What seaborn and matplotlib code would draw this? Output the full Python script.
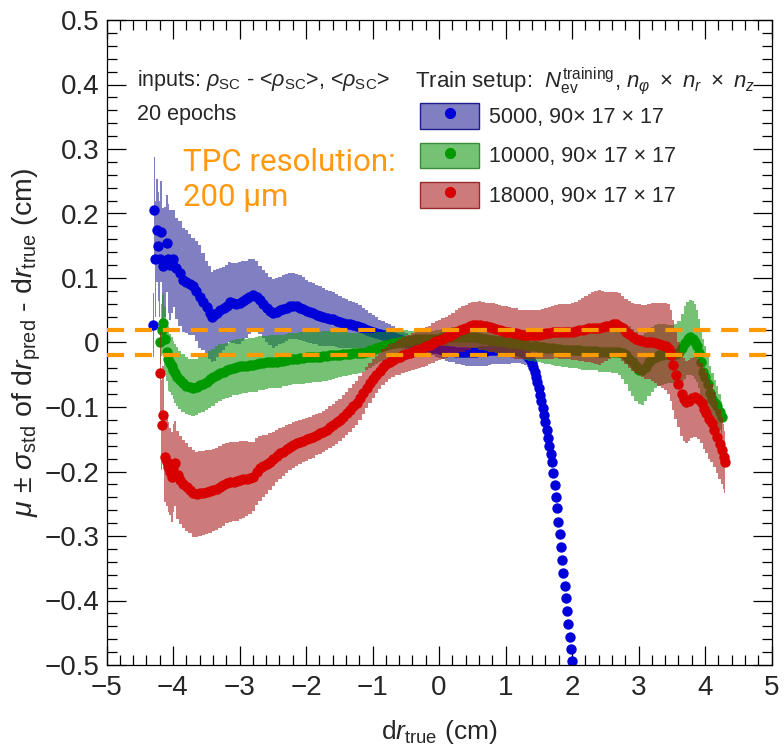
import numpy as np
import pandas as pd
import seaborn as sns
import matplotlib
matplotlib.use("Agg")
import matplotlib.pyplot as plt
from matplotlib.ticker import MultipleLocator, FuncFormatter
from matplotlib.patches import Patch
from matplotlib.lines import Line2D
from matplotlib.legend_handler import HandlerTuple
from matplotlib.colors import to_rgba

# ---------------------------------------------------------------- data
# 5000 training events
blue_x = [-4.300, -4.285, -4.270, -4.245, -4.220, -4.195, -4.185, -4.146, -4.120, -4.095,
          -4.070, -4.045, -4.020, -3.995, -3.950, -3.895, -3.845, -3.800, -3.750, -3.695,
          -3.650, -3.594, -3.550, -3.490, -3.450, -3.418, -3.380, -3.340, -3.290, -3.240,
          -3.190, -3.143, -3.100, -3.050, -2.990, -2.950, -2.900, -2.850, -2.790, -2.740,
          -2.690, -2.640, -2.590, -2.540, -2.490, -2.440, -2.390, -2.340, -2.290, -2.240,
          -2.190, -2.140, -2.090, -2.040, -1.990, -1.940, -1.890, -1.840, -1.790, -1.740,
          -1.690, -1.640, -1.590, -1.540, -1.490, -1.440, -1.390, -1.340, -1.290, -1.240,
          -1.190, -1.140, -1.090, -1.040, -0.990, -0.940, -0.890, -0.840, -0.790, -0.740,
          -0.690, -0.640, -0.590, -0.540, -0.490, -0.440, -0.390, -0.340, -0.290, -0.240,
          -0.190, -0.140, -0.090, -0.040, 0.010, 0.060, 0.110, 0.160, 0.210, 0.260,
          0.310, 0.360, 0.410, 0.460, 0.510, 0.560, 0.610, 0.660, 0.710, 0.760,
          0.810, 0.860, 0.910, 0.960, 1.010, 1.060, 1.110, 1.160, 1.210, 1.260,
          1.300, 1.340, 1.370, 1.400, 1.420, 1.440, 1.460, 1.480, 1.500, 1.520,
          1.540, 1.560, 1.580, 1.600, 1.620, 1.640, 1.660, 1.680, 1.700, 1.720,
          1.739, 1.757, 1.776, 1.795, 1.813, 1.832, 1.851, 1.869, 1.888, 1.907,
          1.925, 1.944, 1.963, 1.981, 2.000]
blue_mu = [0.027, 0.205, 0.130, 0.174, 0.149, 0.129, 0.172, 0.118, 0.125, 0.154,
           0.130, 0.120, 0.125, 0.130, 0.115, 0.107, 0.097, 0.094, 0.090, 0.087,
           0.080, 0.071, 0.063, 0.055, 0.046, 0.040, 0.042, 0.046, 0.050, 0.053,
           0.057, 0.063, 0.062, 0.060, 0.061, 0.064, 0.067, 0.071, 0.074, 0.071,
           0.066, 0.060, 0.054, 0.049, 0.045, 0.047, 0.050, 0.052, 0.054, 0.056,
           0.056, 0.056, 0.054, 0.052, 0.049, 0.047, 0.045, 0.043, 0.041, 0.039,
           0.038, 0.037, 0.036, 0.034, 0.032, 0.030, 0.029, 0.028, 0.027, 0.026,
           0.024, 0.022, 0.020, 0.018, 0.016, 0.015, 0.013, 0.012, 0.011, 0.010,
           0.009, 0.007, 0.005, 0.003, 0.001, -0.001, -0.003, -0.004, -0.005, -0.006,
           -0.006, -0.007, -0.008, -0.009, -0.010, -0.011, -0.012, -0.013, -0.013, -0.014,
           -0.014, -0.014, -0.014, -0.014, -0.014, -0.014, -0.013, -0.013, -0.013, -0.012,
           -0.012, -0.012, -0.012, -0.012, -0.012, -0.012, -0.012, -0.012, -0.013, -0.015,
           -0.018, -0.022, -0.026, -0.032, -0.038, -0.045, -0.053, -0.062, -0.071, -0.081,
           -0.091, -0.102, -0.113, -0.124, -0.136, -0.148, -0.160, -0.173, -0.186, -0.202,
           -0.221, -0.240, -0.257, -0.278, -0.297, -0.317, -0.337, -0.357, -0.378, -0.396,
           -0.416, -0.436, -0.457, -0.475, -0.494]
blue_sd = [0.050, 0.083, 0.090, 0.080, 0.085, 0.090, 0.078, 0.090, 0.085, 0.075,
           0.085, 0.085, 0.080, 0.075, 0.078, 0.082, 0.080, 0.080, 0.078, 0.075,
           0.078, 0.080, 0.075, 0.072, 0.072, 0.070, 0.070, 0.068, 0.066, 0.064,
           0.063, 0.062, 0.062, 0.063, 0.064, 0.062, 0.060, 0.058, 0.056, 0.055,
           0.053, 0.053, 0.053, 0.053, 0.053, 0.053, 0.052, 0.052, 0.052, 0.051,
           0.051, 0.050, 0.050, 0.049, 0.048, 0.047, 0.047, 0.046, 0.046, 0.045,
           0.044, 0.043, 0.042, 0.041, 0.040, 0.039, 0.038, 0.037, 0.036, 0.035,
           0.034, 0.032, 0.030, 0.028, 0.026, 0.024, 0.022, 0.021, 0.019, 0.018,
           0.016, 0.015, 0.014, 0.013, 0.013, 0.012, 0.012, 0.012, 0.012, 0.012,
           0.012, 0.012, 0.012, 0.013, 0.014, 0.015, 0.016, 0.017, 0.018, 0.019,
           0.020, 0.021, 0.022, 0.022, 0.023, 0.023, 0.023, 0.023, 0.023, 0.023,
           0.022, 0.022, 0.022, 0.022, 0.021, 0.021, 0.020, 0.020, 0.019, 0.018,
           0.017, 0.016, 0.015, 0.014, 0.013, 0.012, 0.012, 0.011, 0.011, 0.010,
           0.010, 0.009, 0.009, 0.008, 0.008, 0.007, 0.007, 0.006, 0.006, 0.005,
           0.005, 0.005, 0.005, 0.005, 0.005, 0.005, 0.005, 0.005, 0.005, 0.005,
           0.005, 0.005, 0.005, 0.005, 0.005]

# 10000 training events
green_x = [-4.195, -4.170, -4.146, -4.120, -4.095, -4.070, -4.045, -4.020, -3.995, -3.970,
           -3.944, -3.900, -3.845, -3.800, -3.745, -3.700, -3.644, -3.600, -3.550, -3.493,
           -3.450, -3.400, -3.343, -3.300, -3.240, -3.190, -3.140, -3.090, -3.040, -2.990,
           -2.940, -2.890, -2.840, -2.790, -2.740, -2.690, -2.640, -2.590, -2.540, -2.490,
           -2.440, -2.390, -2.340, -2.290, -2.240, -2.190, -2.140, -2.090, -2.040, -1.990,
           -1.940, -1.890, -1.840, -1.790, -1.740, -1.690, -1.640, -1.590, -1.540, -1.490,
           -1.440, -1.390, -1.340, -1.290, -1.240, -1.190, -1.140, -1.090, -1.040, -0.990,
           -0.940, -0.890, -0.840, -0.790, -0.740, -0.690, -0.640, -0.590, -0.540, -0.490,
           -0.440, -0.390, -0.340, -0.290, -0.240, -0.190, -0.140, -0.090, -0.040, 0.010,
           0.060, 0.110, 0.160, 0.210, 0.260, 0.310, 0.360, 0.410, 0.460, 0.510,
           0.560, 0.610, 0.660, 0.710, 0.760, 0.810, 0.860, 0.910, 0.960, 1.010,
           1.060, 1.110, 1.160, 1.210, 1.260, 1.310, 1.360, 1.410, 1.460, 1.510,
           1.560, 1.610, 1.660, 1.710, 1.760, 1.810, 1.860, 1.910, 1.960, 2.010,
           2.060, 2.110, 2.160, 2.210, 2.260, 2.310, 2.360, 2.410, 2.460, 2.510,
           2.560, 2.610, 2.660, 2.710, 2.760, 2.810, 2.860, 2.910, 2.960, 3.010,
           3.060, 3.110, 3.160, 3.210, 3.260, 3.310, 3.360, 3.410, 3.460, 3.510,
           3.560, 3.610, 3.660, 3.700, 3.740, 3.780, 3.820, 3.850, 3.880, 3.910,
           3.940, 3.970, 4.000, 4.040, 4.070, 4.110, 4.150, 4.180, 4.220, 4.250]
green_mu = [0.001, 0.019, 0.030, 0.005, -0.015, -0.025, -0.032, -0.037, -0.043, -0.048,
            -0.053, -0.058, -0.063, -0.067, -0.069, -0.070, -0.069, -0.066, -0.064, -0.061,
            -0.057, -0.054, -0.050, -0.047, -0.045, -0.043, -0.041, -0.039, -0.038, -0.037,
            -0.036, -0.036, -0.035, -0.035, -0.034, -0.032, -0.032, -0.031, -0.030, -0.030,
            -0.030, -0.029, -0.028, -0.027, -0.026, -0.025, -0.025, -0.024, -0.024, -0.023,
            -0.023, -0.022, -0.022, -0.022, -0.021, -0.021, -0.020, -0.020, -0.019, -0.019,
            -0.018, -0.018, -0.018, -0.017, -0.017, -0.017, -0.016, -0.014, -0.012, -0.011,
            -0.009, -0.007, -0.006, -0.004, -0.003, -0.001, 0.000, 0.001, 0.002, 0.003,
            0.003, 0.004, 0.005, 0.005, 0.005, 0.006, 0.006, 0.006, 0.006, 0.007,
            0.008, 0.008, 0.009, 0.009, 0.009, 0.009, 0.009, 0.009, 0.009, 0.008,
            0.008, 0.007, 0.006, 0.005, 0.004, 0.004, 0.003, 0.002, 0.002, 0.001,
            0.000, -0.001, -0.001, -0.002, -0.003, -0.004, -0.005, -0.005, -0.006, -0.007,
            -0.007, -0.008, -0.008, -0.009, -0.010, -0.010, -0.011, -0.011, -0.012, -0.012,
            -0.012, -0.012, -0.013, -0.013, -0.013, -0.013, -0.013, -0.014, -0.014, -0.014,
            -0.014, -0.014, -0.014, -0.015, -0.016, -0.019, -0.025, -0.031, -0.037, -0.042,
            -0.043, -0.038, -0.031, -0.026, -0.022, -0.020, -0.019, -0.018, -0.018, -0.018,
            -0.018, -0.015, -0.008, 0.000, 0.006, 0.008, 0.006, 0.001, -0.006, -0.017,
            -0.030, -0.045, -0.053, -0.065, -0.079, -0.087, -0.094, -0.099, -0.108, -0.115]
green_sd = [0.035, 0.040, 0.045, 0.050, 0.045, 0.050, 0.045, 0.045, 0.045, 0.046,
            0.046, 0.045, 0.045, 0.044, 0.044, 0.044, 0.044, 0.044, 0.044, 0.044,
            0.044, 0.044, 0.044, 0.044, 0.043, 0.043, 0.043, 0.043, 0.043, 0.043,
            0.043, 0.042, 0.042, 0.042, 0.042, 0.042, 0.042, 0.041, 0.041, 0.041,
            0.041, 0.041, 0.040, 0.040, 0.040, 0.040, 0.040, 0.040, 0.040, 0.040,
            0.040, 0.039, 0.039, 0.039, 0.039, 0.039, 0.038, 0.037, 0.036, 0.035,
            0.034, 0.034, 0.033, 0.032, 0.032, 0.031, 0.030, 0.029, 0.027, 0.026,
            0.025, 0.024, 0.023, 0.022, 0.021, 0.021, 0.019, 0.018, 0.017, 0.016,
            0.015, 0.014, 0.013, 0.013, 0.012, 0.012, 0.012, 0.012, 0.013, 0.013,
            0.013, 0.014, 0.014, 0.015, 0.015, 0.016, 0.016, 0.016, 0.017, 0.017,
            0.017, 0.018, 0.018, 0.018, 0.019, 0.019, 0.019, 0.020, 0.020, 0.020,
            0.021, 0.021, 0.022, 0.022, 0.023, 0.023, 0.023, 0.024, 0.024, 0.024,
            0.025, 0.025, 0.025, 0.026, 0.026, 0.027, 0.027, 0.027, 0.028, 0.028,
            0.028, 0.029, 0.029, 0.029, 0.030, 0.030, 0.030, 0.031, 0.031, 0.032,
            0.032, 0.033, 0.034, 0.036, 0.040, 0.045, 0.050, 0.052, 0.054, 0.054,
            0.054, 0.053, 0.052, 0.050, 0.049, 0.048, 0.047, 0.046, 0.045, 0.045,
            0.046, 0.048, 0.052, 0.056, 0.057, 0.058, 0.058, 0.058, 0.056, 0.054,
            0.052, 0.050, 0.048, 0.045, 0.042, 0.040, 0.036, 0.032, 0.028, 0.025]

# 18000 training events
red_x = [-4.195, -4.170, -4.146, -4.120, -4.095, -4.070, -4.045, -4.020, -3.995, -3.970,
         -3.930, -3.895, -3.845, -3.794, -3.745, -3.695, -3.645, -3.594, -3.545, -3.494,
         -3.444, -3.394, -3.344, -3.294, -3.244, -3.190, -3.140, -3.090, -3.040, -2.990,
         -2.940, -2.890, -2.840, -2.790, -2.740, -2.690, -2.640, -2.590, -2.540, -2.490,
         -2.440, -2.390, -2.340, -2.290, -2.240, -2.190, -2.140, -2.090, -2.040, -1.990,
         -1.940, -1.890, -1.840, -1.790, -1.740, -1.690, -1.640, -1.590, -1.540, -1.490,
         -1.440, -1.390, -1.340, -1.290, -1.240, -1.190, -1.140, -1.090, -1.040, -0.990,
         -0.940, -0.890, -0.840, -0.790, -0.740, -0.690, -0.640, -0.590, -0.540, -0.490,
         -0.440, -0.390, -0.340, -0.290, -0.240, -0.190, -0.140, -0.090, -0.040, 0.010,
         0.060, 0.110, 0.160, 0.210, 0.260, 0.310, 0.360, 0.410, 0.460, 0.510,
         0.560, 0.610, 0.660, 0.710, 0.760, 0.810, 0.860, 0.910, 0.960, 1.010,
         1.060, 1.110, 1.160, 1.210, 1.260, 1.310, 1.360, 1.410, 1.460, 1.510,
         1.560, 1.610, 1.660, 1.710, 1.760, 1.810, 1.860, 1.910, 1.960, 2.010,
         2.060, 2.110, 2.160, 2.210, 2.260, 2.310, 2.360, 2.410, 2.460, 2.510,
         2.560, 2.610, 2.660, 2.710, 2.760, 2.810, 2.860, 2.910, 2.960, 3.010,
         3.060, 3.110, 3.160, 3.210, 3.260, 3.310, 3.360, 3.410, 3.460, 3.490,
         3.520, 3.560, 3.600, 3.650, 3.680, 3.720, 3.760, 3.800, 3.850, 3.900,
         3.950, 3.990, 4.020, 4.060, 4.100, 4.140, 4.180, 4.220, 4.250, 4.280,
         4.300]
red_mu = [-0.048, -0.128, -0.112, -0.177, -0.185, -0.193, -0.200, -0.208, -0.195, -0.187,
          -0.205, -0.213, -0.219, -0.224, -0.229, -0.234, -0.235, -0.234, -0.233, -0.232,
          -0.231, -0.229, -0.227, -0.224, -0.221, -0.218, -0.217, -0.216, -0.215, -0.213,
          -0.212, -0.211, -0.210, -0.208, -0.200, -0.195, -0.192, -0.189, -0.185, -0.181,
          -0.176, -0.172, -0.169, -0.165, -0.162, -0.159, -0.156, -0.154, -0.152, -0.150,
          -0.148, -0.146, -0.143, -0.141, -0.138, -0.135, -0.131, -0.128, -0.124, -0.120,
          -0.115, -0.110, -0.105, -0.099, -0.094, -0.086, -0.078, -0.070, -0.063, -0.056,
          -0.050, -0.044, -0.038, -0.034, -0.030, -0.027, -0.024, -0.022, -0.020, -0.018,
          -0.016, -0.014, -0.012, -0.010, -0.008, -0.006, -0.004, -0.001, 0.002, 0.004,
          0.006, 0.008, 0.010, 0.013, 0.016, 0.019, 0.021, 0.023, 0.025, 0.027,
          0.027, 0.027, 0.026, 0.025, 0.024, 0.023, 0.021, 0.019, 0.018, 0.017,
          0.016, 0.015, 0.014, 0.013, 0.012, 0.012, 0.012, 0.012, 0.012, 0.012,
          0.013, 0.014, 0.015, 0.016, 0.017, 0.017, 0.017, 0.017, 0.017, 0.017,
          0.018, 0.019, 0.020, 0.021, 0.022, 0.023, 0.023, 0.023, 0.024, 0.025,
          0.026, 0.028, 0.028, 0.026, 0.022, 0.017, 0.013, 0.009, 0.006, 0.004,
          0.002, 0.001, 0.001, 0.001, -0.001, -0.003, -0.004, -0.006, -0.010, -0.020,
          -0.035, -0.050, -0.065, -0.080, -0.088, -0.092, -0.090, -0.086, -0.084, -0.088,
          -0.094, -0.103, -0.110, -0.118, -0.125, -0.135, -0.146, -0.157, -0.167, -0.177,
          -0.185]
red_sd = [0.065, 0.070, 0.075, 0.070, 0.068, 0.070, 0.068, 0.070, 0.068, 0.066,
          0.068, 0.068, 0.068, 0.068, 0.067, 0.067, 0.066, 0.066, 0.065, 0.065,
          0.065, 0.064, 0.064, 0.063, 0.063, 0.062, 0.062, 0.061, 0.061, 0.060,
          0.060, 0.058, 0.056, 0.054, 0.052, 0.050, 0.048, 0.046, 0.044, 0.042,
          0.040, 0.039, 0.038, 0.037, 0.036, 0.035, 0.035, 0.034, 0.034, 0.033,
          0.033, 0.033, 0.032, 0.032, 0.032, 0.032, 0.032, 0.032, 0.033, 0.033,
          0.033, 0.034, 0.034, 0.034, 0.034, 0.034, 0.033, 0.032, 0.031, 0.030,
          0.029, 0.028, 0.028, 0.027, 0.027, 0.027, 0.027, 0.028, 0.028, 0.028,
          0.028, 0.029, 0.029, 0.029, 0.030, 0.030, 0.030, 0.031, 0.031, 0.031,
          0.032, 0.032, 0.033, 0.033, 0.034, 0.034, 0.035, 0.035, 0.036, 0.036,
          0.036, 0.037, 0.037, 0.037, 0.038, 0.038, 0.038, 0.039, 0.039, 0.039,
          0.039, 0.039, 0.039, 0.038, 0.038, 0.038, 0.038, 0.038, 0.038, 0.038,
          0.039, 0.040, 0.040, 0.041, 0.041, 0.042, 0.042, 0.043, 0.043, 0.044,
          0.045, 0.047, 0.049, 0.051, 0.053, 0.055, 0.057, 0.058, 0.056, 0.054,
          0.052, 0.050, 0.050, 0.050, 0.050, 0.051, 0.052, 0.053, 0.054, 0.055,
          0.056, 0.057, 0.058, 0.060, 0.062, 0.064, 0.066, 0.068, 0.070, 0.070,
          0.070, 0.068, 0.066, 0.065, 0.064, 0.064, 0.063, 0.062, 0.062, 0.062,
          0.062, 0.062, 0.062, 0.062, 0.060, 0.058, 0.056, 0.054, 0.052, 0.050,
          0.048]

series_labels = ["5000, 90× 17 × 17", "10000, 90× 17 × 17", "18000, 90× 17 × 17"]
tpc_resolution = 0.02  # cm, i.e. 200 um

# ---------------------------------------------------------------- style
sns.set_style("ticks")
plt.rcParams["font.family"] = ["Liberation Sans", "DejaVu Sans"]
plt.rcParams["mathtext.fontset"] = "custom"
plt.rcParams["mathtext.rm"] = "Liberation Sans"
plt.rcParams["mathtext.it"] = "Liberation Sans:italic"
plt.rcParams["mathtext.bf"] = "Liberation Sans:bold"

marker_colors = ["#0000d8", "#009a00", "#d80000"]
band_colors = ["#3a3aa0", "#1a9a1a", "#a81a1a"]
band_alpha = [0.65, 0.60, 0.58]
edge_colors = ["#1c1c8c", "#3a8a3a", "#9a2a2a"]

fig = plt.figure(figsize=(7.84, 7.56), dpi=100)
ax = fig.add_axes([106.5 / 784, 1 - 665 / 756, 665 / 784, 645 / 756])

data = [(blue_x, blue_mu, blue_sd), (green_x, green_mu, green_sd), (red_x, red_mu, red_sd)]
for i, (x, mu, sd) in enumerate(data):
    df = pd.DataFrame({"x": x, "mu": mu, "sd": sd})
    ax.fill_between(df["x"], df["mu"] - df["sd"], df["mu"] + df["sd"], step="mid",
                    color=band_colors[i], alpha=band_alpha[i], lw=0, zorder=2 * i + 1)
    sns.scatterplot(data=df, x="x", y="mu", color=marker_colors[i], s=56, linewidth=0,
                    ax=ax, zorder=2 * i + 2, legend=False)

# TPC resolution band edges
for level in (tpc_resolution, -tpc_resolution):
    ax.axhline(level, color="#ff9900", lw=3.0, dashes=(4.1, 2.6), zorder=10)

# ---------------------------------------------------------------- axes
ax.set_xlim(-5, 5)
ax.set_ylim(-0.5, 0.5)
ax.xaxis.set_major_locator(MultipleLocator(1))
ax.xaxis.set_minor_locator(MultipleLocator(0.2))
ax.yaxis.set_major_locator(MultipleLocator(0.1))
ax.yaxis.set_minor_locator(MultipleLocator(0.02))


def root_fmt(v, pos):
    if abs(v) < 1e-9:
        return "0"
    return f"{v:g}".replace("-", "\u2212")


ax.xaxis.set_major_formatter(FuncFormatter(root_fmt))
ax.yaxis.set_major_formatter(FuncFormatter(root_fmt))
ax.tick_params(which="both", direction="in", top=True, right=True, width=0.9,
               color="black")
ax.tick_params(axis="y", labelsize=20, pad=5)
ax.tick_params(axis="x", labelsize=20, pad=7)
ax.tick_params(which="major", length=14)
ax.tick_params(which="minor", length=7)
for sp in ax.spines.values():
    sp.set_linewidth(0.9)
    sp.set_color("black")

ax.set_xlabel(r"d$r_{\rm true}$ (cm)", fontsize=19)
ax.set_ylabel(r"$\mu$ $\pm$ $\sigma_{\rm std}$ of d$r_{\rm pred}$ - d$r_{\rm true}$ (cm)",
              fontsize=20.5)
ax.xaxis.set_label_coords(0.5, -0.082)
ax.yaxis.set_label_coords(-0.095, 0.5)

# ---------------------------------------------------------------- annotations
ax.text(0.0459, 0.8977, r"inputs: $\rho_{\rm SC}$ - <$\rho_{\rm SC}$>, <$\rho_{\rm SC}$>",
        transform=ax.transAxes, fontsize=15.5, va="baseline", ha="left")
ax.text(0.0459, 0.845, "20 epochs", transform=ax.transAxes, fontsize=15.5,
        va="baseline", ha="left")
ax.text(0.115, 0.766, "TPC resolution:", transform=ax.transAxes, fontsize=22.5,
        color="#ff9a10", family=["Roboto", "DejaVu Sans"], fontweight="normal",
        va="baseline", ha="left")
ax.text(0.115, 0.712, "200 μm", transform=ax.transAxes, fontsize=22.5,
        color="#ff9a10", family=["Roboto", "DejaVu Sans"], fontweight="normal",
        va="baseline", ha="left")
ax.text(0.464, 0.8946,
        r"Train setup:  $N_{\rm ev}^{\rm training}$, $n_{\varphi}\ \times\ n_{r}\ \times\ n_{z}$",
        transform=ax.transAxes, fontsize=16, va="baseline", ha="left")

handles = []
for i in range(3):
    box = Patch(facecolor=to_rgba(band_colors[i], band_alpha[i]),
                edgecolor=edge_colors[i], linewidth=1.0)
    dot = Line2D([], [], marker="o", color=marker_colors[i], ls="none", markersize=7)
    handles.append((box, dot))
ax.legend(handles, series_labels, handler_map={tuple: HandlerTuple(ndivide=1)},
          loc="upper left", bbox_to_anchor=(0.4714, 0.8713), frameon=False,
          fontsize=15.5, handlelength=2.75, handleheight=1.45, labelspacing=0.65,
          handletextpad=0.45, borderpad=0, borderaxespad=0)

fig.savefig("out.png", dpi=100)
